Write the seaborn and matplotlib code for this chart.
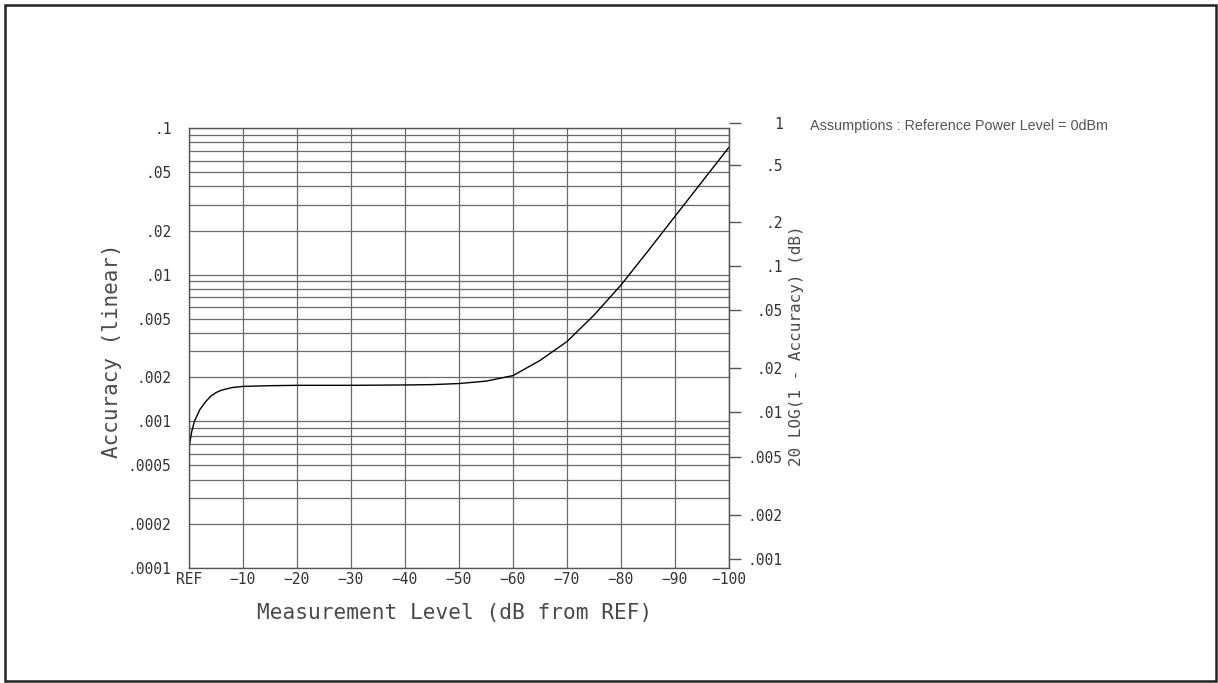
import numpy as np
import pandas as pd
import matplotlib
matplotlib.use("Agg")
import matplotlib.pyplot as plt
import matplotlib.ticker as mticker
from matplotlib.patches import Rectangle
import seaborn as sns

# ---------------- data ----------------
level_db = [0, -0.5, -1, -2, -3, -4, -5, -6, -8, -10, -15, -20, -30, -40, -45,
            -50, -55, -60, -65, -70, -75, -80, -85, -90, -95, -100]
accuracy = [0.00066, 0.00085, 0.00100, 0.00120, 0.00135, 0.00148, 0.00157, 0.00163,
            0.00170, 0.00173, 0.00175, 0.00176, 0.00176, 0.00177, 0.00178,
            0.00181, 0.00188, 0.00205, 0.0026, 0.0035, 0.0053, 0.0085, 0.0145,
            0.025, 0.043, 0.074]

x_ticks = [0, -10, -20, -30, -40, -50, -60, -70, -80, -90, -100]
x_tick_labels = ["REF", "\u221210", "\u221220", "\u221230", "\u221240", "\u221250",
                 "\u221260", "\u221270", "\u221280", "\u221290", "\u2212100"]
left_ticks = [0.1, 0.05, 0.02, 0.01, 0.005, 0.002, 0.001, 0.0005, 0.0002, 0.0001]
left_labels = [".1", ".05", ".02", ".01", ".005", ".002", ".001", ".0005", ".0002", ".0001"]
right_ticks = [1, 0.5, 0.2, 0.1, 0.05, 0.02, 0.01, 0.005, 0.002, 0.001]
right_labels = ["1", ".5", ".2", ".1", ".05", ".02", ".01", ".005", ".002", ".001"]

df = pd.DataFrame({"level": level_db, "accuracy": accuracy})

# ---------------- style ----------------
sns.set_style("white")
plt.rcParams["font.family"] = ["DejaVu Sans Mono", "DejaVu Sans"]

W, H = 1218, 683
fig = plt.figure(figsize=(W / 100, H / 100), dpi=100)

def fx(px):
    return px / W

def fy(py):
    return (H - py) / H

left, right, top, bottom = 189, 729, 128, 568
ax = fig.add_axes([fx(left), fy(bottom), fx(right - left), (bottom - top) / H])

sns.lineplot(data=df, x="level", y="accuracy", ax=ax, color="black", lw=1.0)

ylo, yhi = 1e-4, 0.1
ax.set_yscale("log")
ax.set_ylim(ylo, yhi)
ax.set_xlim(0, -100)

ax.set_xticks(x_ticks)
ax.set_xticklabels(x_tick_labels)
ax.set_yticks(left_ticks)
ax.set_yticklabels(left_labels)
ax.yaxis.set_minor_locator(mticker.LogLocator(base=10, subs=np.arange(2, 10), numticks=20))
ax.yaxis.set_minor_formatter(mticker.NullFormatter())

lab_kw = dict(labelsize=10.5, labelcolor="#333333")
ax.tick_params(axis="x", length=0, pad=3, **lab_kw)
ax.tick_params(axis="y", which="major", length=8.6, width=1, color="#555555", pad=4, **lab_kw)
ax.tick_params(axis="y", which="minor", length=0)

ax.grid(True, axis="y", which="both", color="#6a6a6a", lw=0.9)
ax.grid(True, axis="x", which="major", color="#6a6a6a", lw=0.9)

for s in ax.spines.values():
    s.set_color("#555555")
    s.set_linewidth(1.0)

ax.set_xlabel("")
ax.set_ylabel("")

# right scale: 20 LOG(1 - Accuracy) in dB, placed on the same accuracy scale
def db_to_acc(d):
    d = np.asarray(d, dtype=float)
    return 1.0 - 10.0 ** (-d / 20.0)

extra_px = 12  # the "1" tick sits just above the plot top
decade_px = (bottom - top) / np.log10(yhi / ylo)
yhi2 = yhi * 10 ** (extra_px / decade_px)
ax2 = fig.add_axes([fx(left), fy(bottom), fx(right - left), (bottom - top + extra_px) / H])
ax2.patch.set_visible(False)
ax2.set_yscale("log")
ax2.set_ylim(ylo, yhi2)
ax2.set_xlim(0, -100)
ax2.set_xticks([])
for k in ["left", "top", "bottom"]:
    ax2.spines[k].set_visible(False)
ax2.spines["right"].set_bounds(ylo, yhi)
ax2.spines["right"].set_color("#555555")
ax2.yaxis.tick_right()
ax2.set_yticks(list(db_to_acc(right_ticks)))
ax2.set_yticklabels(right_labels)
ax2.yaxis.set_minor_locator(mticker.NullLocator())
ax2.tick_params(axis="y", which="major", length=8.6, width=1, color="#555555", pad=30, **lab_kw)
for lab in ax2.get_yticklabels():
    lab.set_horizontalalignment("right")

# axis titles
fig.text(fx(455), fy(613), "Measurement Level (dB from REF)", ha="center", va="center",
         fontsize=15.2, color="#4a4a4a")
fig.text(fx(112), fy(351), "Accuracy (linear)", ha="center", va="center",
         rotation=90, fontsize=15, color="#4a4a4a")
fig.text(fx(797), fy(346), "20 LOG(1 - Accuracy) (dB)", ha="center", va="center",
         rotation=90, fontsize=11.5, color="#4a4a4a")

fig.text(fx(810), fy(126), "Assumptions : Reference Power Level = 0dBm", ha="left",
         va="center", fontsize=10.4, color="#555555", family=["Liberation Sans", "DejaVu Sans"])

# outer frame
fig.patches.append(Rectangle((fx(5), fy(681)), fx(1211), 676 / H, transform=fig.transFigure,
                             fill=False, edgecolor="#222222", lw=1.8))

fig.savefig("out.png", dpi=100)
